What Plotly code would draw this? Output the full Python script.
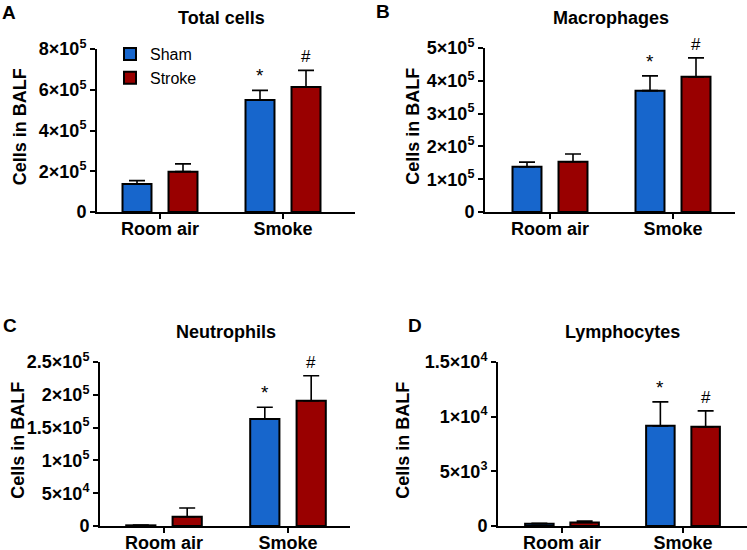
import plotly.graph_objects as go

# ---------------- data ----------------
categories = ["Room air", "Smoke"]
groups = ["Sham", "Stroke"]
titles = ["Total cells", "Macrophages", "Neutrophils", "Lymphocytes"]
letters = ["A", "B", "C", "D"]

total_sham = [1.37e5, 5.50e5]
total_sham_sem = [0.17e5, 0.47e5]
total_stroke = [1.98e5, 6.13e5]
total_stroke_sem = [0.38e5, 0.82e5]

mac_sham = [1.38e5, 3.70e5]
mac_sham_sem = [0.14e5, 0.45e5]
mac_stroke = [1.53e5, 4.12e5]
mac_stroke_sem = [0.24e5, 0.58e5]

neu_sham = [1.0e3, 1.63e5]
neu_sham_sem = [0.3e3, 0.18e5]
neu_stroke = [1.42e4, 1.91e5]
neu_stroke_sem = [1.32e4, 0.38e5]

lym_sham = [200, 9.16e3]
lym_sham_sem = [50, 2.19e3]
lym_stroke = [330, 9.07e3]
lym_stroke_sem = [120, 1.46e3]

sham_marks = ["", "*"]
stroke_marks = ["", "#"]

total_ticks = [0, 2e5, 4e5, 6e5, 8e5]
total_ticklabels = ["0", "2×10<sup>5</sup>", "4×10<sup>5</sup>", "6×10<sup>5</sup>", "8×10<sup>5</sup>"]
mac_ticks = [0, 1e5, 2e5, 3e5, 4e5, 5e5]
mac_ticklabels = ["0", "1×10<sup>5</sup>", "2×10<sup>5</sup>", "3×10<sup>5</sup>", "4×10<sup>5</sup>", "5×10<sup>5</sup>"]
neu_ticks = [0, 5e4, 1e5, 1.5e5, 2e5, 2.5e5]
neu_ticklabels = ["0", "5×10<sup>4</sup>", "1×10<sup>5</sup>", "1.5×10<sup>5</sup>", "2×10<sup>5</sup>", "2.5×10<sup>5</sup>"]
lym_ticks = [0, 5e3, 1e4, 1.5e4]
lym_ticklabels = ["0", "5×10<sup>3</sup>", "1×10<sup>4</sup>", "1.5×10<sup>4</sup>"]

panels = [
    (total_sham, total_sham_sem, total_stroke, total_stroke_sem, total_ticks, total_ticklabels),
    (mac_sham, mac_sham_sem, mac_stroke, mac_stroke_sem, mac_ticks, mac_ticklabels),
    (neu_sham, neu_sham_sem, neu_stroke, neu_stroke_sem, neu_ticks, neu_ticklabels),
    (lym_sham, lym_sham_sem, lym_stroke, lym_stroke_sem, lym_ticks, lym_ticklabels),
]

# ---------------- layout geometry (pixels) ----------------
W, H = 747, 550
# plot area: x0, x1, y_top, y_bottom, x-pixel of first category, px spacing between categories
boxes = [
    (97, 355, 49, 212, 160, 123),
    (485, 735, 48, 212, 550, 123),
    (100, 350, 362, 526, 164, 124),
    (498, 747, 362, 526, 562, 121),
]
title_pos = [(222, 18), (611, 18), (226, 332), (622, 332)]
letter_pos = [(9, 12), (383, 11), (10, 325), (415, 325)]
ytitle_x = [20, 413, 18, 403]

BLUE = "#1766CC"
RED = "#990000"
FONT = "Arial, Liberation Sans, sans-serif"

fig = go.Figure()
layout = {}
annotations = []

for i, (s, s_sem, k, k_sem, ticks, ticklabels) in enumerate(panels):
    n = "" if i == 0 else str(i + 1)
    xa, ya = "x" + n, "y" + n
    x0, x1, yt, yb, c0, sp = boxes[i]
    for g, (vals, sem, col, marks, shift) in enumerate([
        (s, s_sem, BLUE, sham_marks, -23),
        (k, k_sem, RED, stroke_marks, 23),
    ]):
        fig.add_trace(go.Bar(
            x=categories, y=vals, name=groups[g],
            marker=dict(color=col, line=dict(color="black", width=2)),
            error_y=dict(type="data", symmetric=False, array=sem, arrayminus=[0] * len(sem),
                         color="black", thickness=1.6, width=8),
            xaxis=xa, yaxis=ya, showlegend=(i == 0), legendgroup=groups[g],
        ))
        for c, v, e, m in zip(categories, vals, sem, marks):
            if m:
                annotations.append(dict(
                    x=c, y=v + e, xref=xa, yref=ya, text=m, showarrow=False,
                    xshift=shift, yanchor="bottom", yshift=2,
                    font=dict(family=FONT, size=17 if m == "#" else 19, color="black"),
                ))
    rng_lo = (x0 - c0) / sp
    rng_hi = 1 + (x1 - (c0 + sp)) / sp
    layout["xaxis" + n] = dict(
        domain=[x0 / W, x1 / W], anchor=ya, type="category",
        range=[rng_lo, rng_hi], showline=True, linecolor="black", linewidth=2,
        ticks="outside", ticklen=5, tickwidth=2, tickcolor="black",
        showgrid=False, zeroline=False, automargin=False, ticklabelstandoff=-6,
        tickfont=dict(family=FONT, size=18, color="black", weight="bold"),
    )
    layout["yaxis" + n] = dict(
        domain=[1 - yb / H, 1 - yt / H], anchor=xa, automargin=False,
        range=[0, ticks[-1]], showline=True, linecolor="black", linewidth=2,
        ticks="outside", ticklen=5, tickwidth=2, tickcolor="black",
        tickvals=ticks, ticktext=ticklabels, showgrid=False, zeroline=False,
        tickfont=dict(family=FONT, size=18, color="black", weight="bold"),
    )
    tx, ty = title_pos[i]
    annotations.append(dict(x=tx / W, y=1 - ty / H, xref="paper", yref="paper",
                            text=titles[i], showarrow=False, xanchor="center", yanchor="middle",
                            font=dict(family=FONT, size=18, color="black", weight="bold")))
    lx, ly = letter_pos[i]
    annotations.append(dict(x=lx / W, y=1 - ly / H, xref="paper", yref="paper",
                            text=letters[i], showarrow=False, xanchor="center", yanchor="middle",
                            font=dict(family=FONT, size=19, color="black", weight="bold")))
    annotations.append(dict(x=ytitle_x[i] / W, y=1 - (yt + yb) / 2 / H + 0.006, xref="paper", yref="paper",
                            text="Cells in BALF", showarrow=False, textangle=-90,
                            xanchor="center", yanchor="middle",
                            font=dict(family=FONT, size=18, color="black", weight="bold")))

fig.update_layout(
    width=W, height=H, margin=dict(l=0, r=0, t=0, b=0, autoexpand=False),
    paper_bgcolor="white", plot_bgcolor="white",
    barmode="group", bargap=0.252, bargroupgap=0.37,
    showlegend=True,
    legend=dict(x=110 / W, y=1 - 37 / H, xanchor="left", yanchor="top",
                bgcolor="rgba(0,0,0,0)", font=dict(family=FONT, size=16, color="black"),
                tracegroupgap=0, itemsizing="constant"),
    annotations=annotations,
    **layout,
)

fig.write_html("out.html", config={"displayModeBar": False},
               post_script="document.body.style.margin='0';document.body.style.overflow='hidden';")
